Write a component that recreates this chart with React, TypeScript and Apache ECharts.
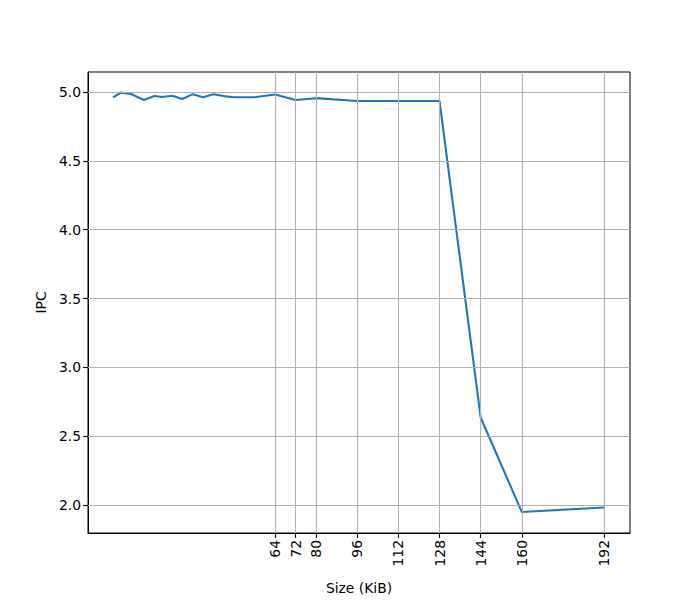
import React, { useEffect, useRef } from "react";
import * as echarts from "echarts";

const sizes = [1, 4, 8, 13, 17, 20, 24, 28, 32, 36, 40, 44, 48, 56, 64, 72, 80, 96, 112, 128, 144, 160, 192];
const ipc = [4.96, 4.995, 4.985, 4.942, 4.971, 4.964, 4.973, 4.949, 4.984, 4.962, 4.984, 4.97, 4.962, 4.962, 4.982, 4.942, 4.955, 4.935, 4.935, 4.935, 2.636, 1.95, 1.982];
const xTicks = [64, 72, 80, 96, 112, 128, 144, 160, 192];
const yTicks = [2.0, 2.5, 3.0, 3.5, 4.0, 4.5, 5.0];

export default function App() {
  const ref = useRef<HTMLDivElement>(null);
  useEffect(() => {
    const chart = echarts.init(ref.current!, null, { renderer: "svg" });
    const font = "DejaVu Sans";
    const gridLine = { color: "#b0b0b0", width: 1.1, type: "solid" as const };
    chart.setOption({
      animation: false,
      textStyle: { fontFamily: font },
      grid: {
        left: 88,
        right: 70,
        top: 72,
        bottom: 66,
        show: true,
        borderColor: "#000",
        borderWidth: 1,
        backgroundColor: "transparent",
      },
      xAxis: {
        type: "value",
        min: -8.75,
        max: 202.1,
        name: "Size (KiB)",
        nameLocation: "middle",
        nameGap: 48,
        nameTextStyle: { color: "#000", fontSize: 13.9, fontFamily: font },
        axisLine: { show: true, onZero: false, lineStyle: { color: "#000", width: 1 } },
        axisTick: { show: true, customValues: xTicks, length: 4.9, inside: false, lineStyle: { color: "#000", width: 1.1 } },
        axisLabel: {
          customValues: xTicks,
          rotate: 90,
          margin: 7,
          color: "#000",
          fontSize: 13.9,
          fontFamily: font,
          formatter: (v: number) => String(v),
        },
        splitLine: { show: false },
      },
      yAxis: {
        type: "value",
        min: 1.797,
        max: 5.145,
        name: "IPC",
        nameLocation: "middle",
        nameGap: 37,
        nameTextStyle: { color: "#000", fontSize: 13.9, fontFamily: font },
        axisLine: { show: true, onZero: false, lineStyle: { color: "#000", width: 1 } },
        axisTick: { show: true, customValues: yTicks, length: 4.9, lineStyle: { color: "#000", width: 1.1 } },
        axisLabel: {
          customValues: yTicks,
          margin: 7,
          color: "#000",
          fontSize: 13.9,
          fontFamily: font,
          formatter: (v: number) => v.toFixed(1),
        },
        splitLine: { show: false },
      },
      series: [
        {
          type: "line",
          data: sizes.map((s, i) => [s, ipc[i]]),
          symbol: "none",
          lineStyle: { opacity: 0 },
          silent: true,
          z: 1,
          markLine: {
            silent: true,
            symbol: ["none", "none"],
            label: { show: false },
            lineStyle: gridLine,
            data: [
              ...xTicks.map((v) => ({ xAxis: v })),
              ...yTicks.map((v) => ({ yAxis: v })),
            ],
          },
        },
        {
          type: "line",
          data: sizes.map((s, i) => [s, ipc[i]]),
          symbol: "none",
          lineStyle: { color: "#1f77b4", width: 2.08 },
          z: 3,
        },
      ],
    });
    return () => chart.dispose();
  }, []);
  return (
    <div
      ref={ref}
      style={{ position: "absolute", left: 0, top: 0, width: 700, height: 600 }}
    />
  );
}
